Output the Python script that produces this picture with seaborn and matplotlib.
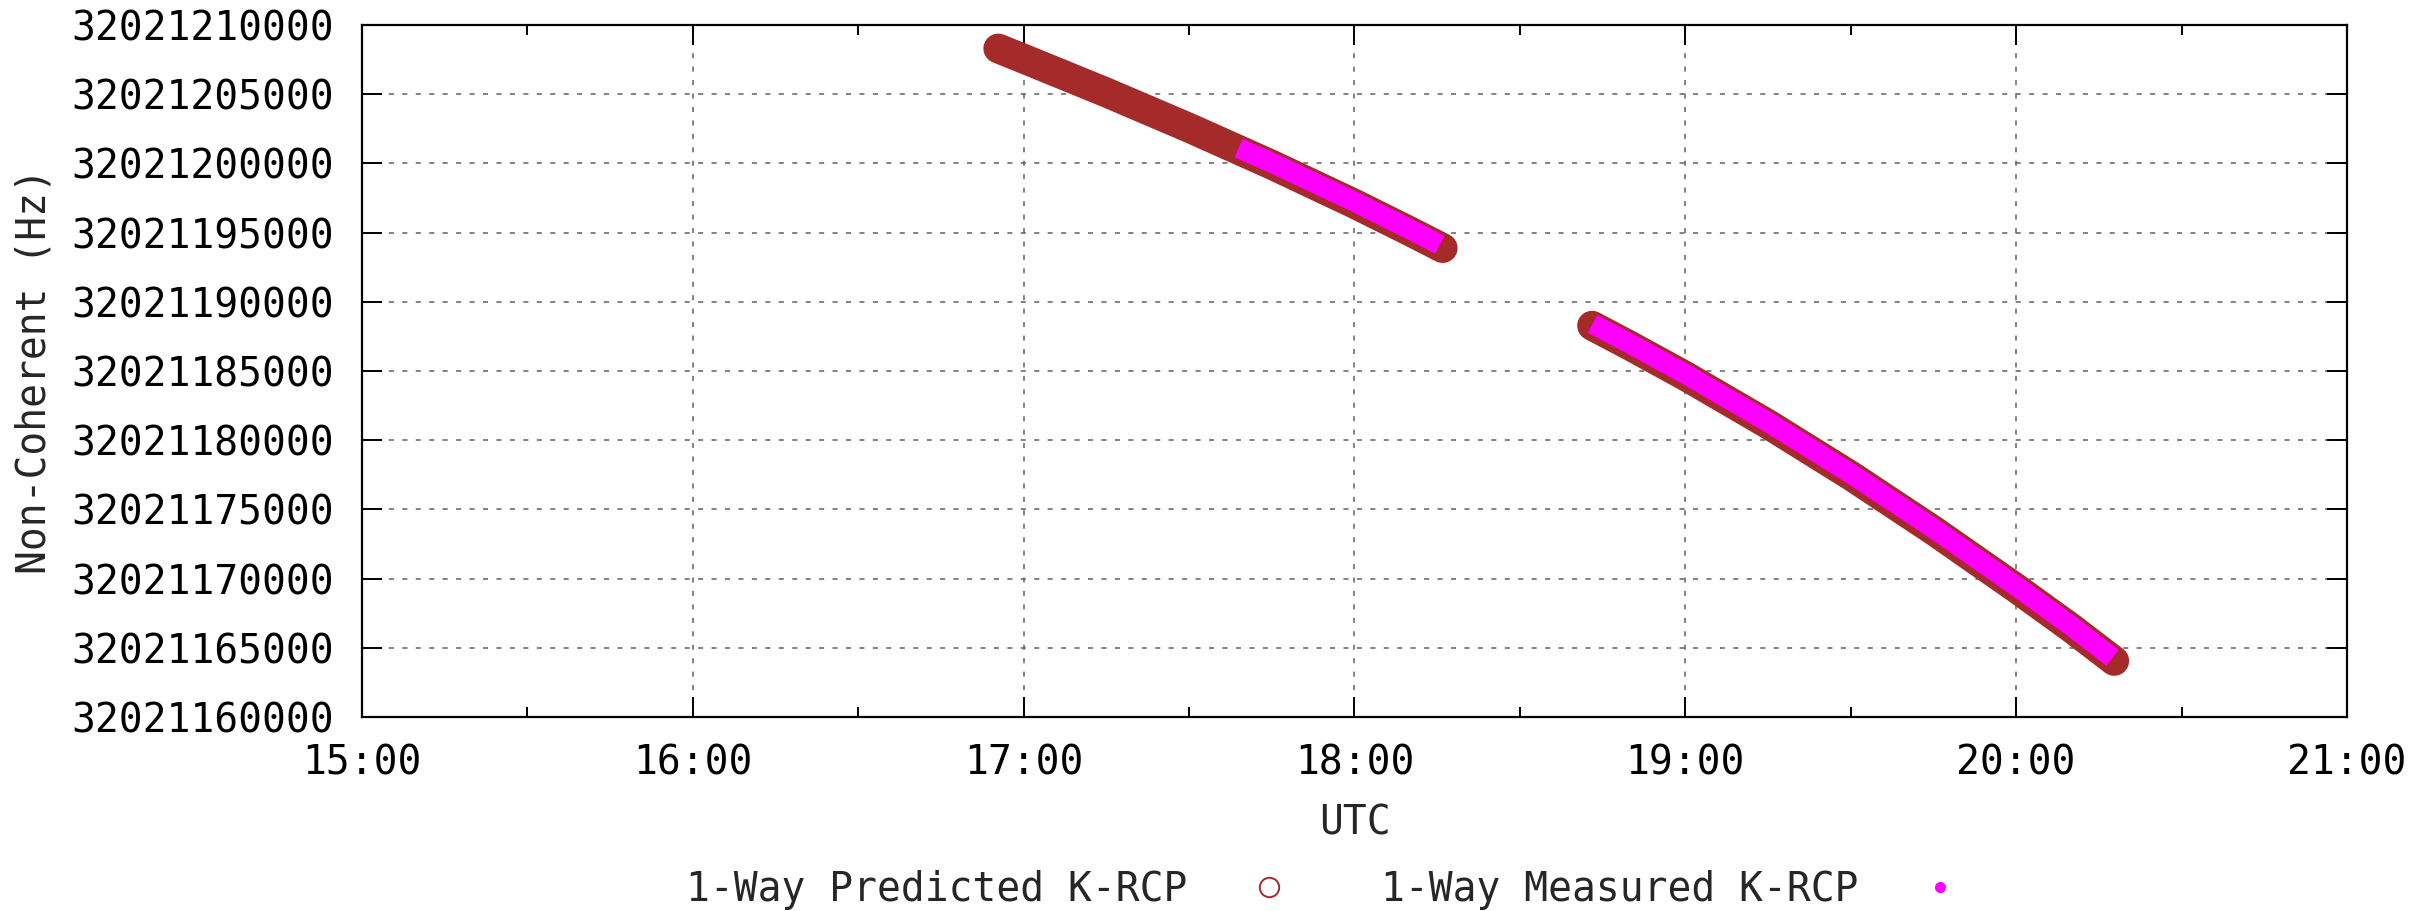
#
# Non-coherent K-RCP frequency, predicted vs measured (gnuplot look)
#
import matplotlib
matplotlib.use("Agg")
import matplotlib.pyplot as plt
import matplotlib.dates as mdates
import matplotlib.ticker as mticker
from matplotlib.lines import Line2D
import pandas as pd
import seaborn as sns

DAY = "2021-01-01 "

# 1. Data (UTC, Hz)
pred_seg1_time = ["16:55:24", "17:00:00", "17:15:00", "17:30:00", "17:45:00",
                  "18:00:00", "18:10:00", "18:16:00"]
pred_seg1_freq = [32021208300, 32021207560, 32021205120, 32021202570, 32021199900,
                  32021197080, 32021195100, 32021193880]

pred_seg2_time = ["18:43:06", "18:50:00", "19:00:00", "19:15:00", "19:30:00",
                  "19:45:00", "20:00:00", "20:10:00", "20:17:48"]
pred_seg2_freq = [32021188270, 32021186820, 32021184640, 32021181160, 32021177440,
                  32021173480, 32021169310, 32021166430, 32021164050]

meas_seg1_time = ["17:39:00", "17:45:00", "18:00:00", "18:10:00", "18:15:30"]
meas_seg1_freq = [32021201100, 32021200050, 32021197230, 32021195250, 32021194120]

meas_seg2_time = ["18:43:12", "18:50:00", "19:00:00", "19:15:00", "19:30:00",
                  "19:45:00", "20:00:00", "20:10:00", "20:17:30"]
meas_seg2_freq = [32021188400, 32021186970, 32021184790, 32021181310, 32021177590,
                  32021173630, 32021169460, 32021166580, 32021164280]

y_min, y_max, y_step = 32021160000, 32021210000, 5000
x_start, x_end = "15:00", "21:00"

LABEL_PRED = "1-Way Predicted K-RCP"
LABEL_MEAS = "1-Way Measured K-RCP"
BROWN = "#a52a2a"
MAGENTA = "#ff00ff"


def to_frame(segments):
    rows = []
    for seg_id, (times, freqs) in enumerate(segments):
        for t, f in zip(times, freqs):
            rows.append({"time": pd.Timestamp(DAY + t), "freq": f, "segment": seg_id})
    return pd.DataFrame(rows)


pred_df = to_frame([(pred_seg1_time, pred_seg1_freq), (pred_seg2_time, pred_seg2_freq)])
meas_df = to_frame([(meas_seg1_time, meas_seg1_freq), (meas_seg2_time, meas_seg2_freq)])

# 2. Style
sns.set_style("ticks")
plt.rcParams["font.family"] = ["DejaVu Sans Mono", "DejaVu Sans"]
FS = 28.5

fig = plt.figure(figsize=(24.23, 9.11), dpi=100)
ax = fig.add_axes([0.1494, 0.2130, 0.8192, 0.7596])

# predicted: dense open circles -> thick brown band
sns.lineplot(data=pred_df, x="time", y="freq", units="segment", estimator=None,
             sort=False, color=BROWN, linewidth=21.5, legend=False, ax=ax,
             solid_capstyle="round", solid_joinstyle="round", zorder=3)
# measured: small filled points -> narrower magenta band on top
sns.lineplot(data=meas_df, x="time", y="freq", units="segment", estimator=None,
             sort=False, color=MAGENTA, linewidth=14.5, legend=False, ax=ax,
             solid_capstyle="butt", solid_joinstyle="round", zorder=4)

# 3. Axes
ax.set_xlim(pd.Timestamp(DAY + x_start), pd.Timestamp(DAY + x_end))
ax.set_ylim(y_min, y_max)
ax.xaxis.set_major_locator(mdates.HourLocator())
ax.xaxis.set_minor_locator(mdates.MinuteLocator(byminute=[30]))
ax.xaxis.set_major_formatter(mdates.DateFormatter("%H:%M"))
ax.yaxis.set_major_locator(mticker.MultipleLocator(y_step))
ax.yaxis.set_major_formatter(mticker.StrMethodFormatter("{x:.0f}"))

ax.grid(True, which="major", color="#606060", linewidth=1.1,
        linestyle=(0, (3.3, 5.5)), zorder=1)

ax.tick_params(which="both", direction="in", top=True, right=True,
               width=1.4, colors="black", labelsize=FS)
ax.tick_params(which="major", length=14.5)
ax.tick_params(which="minor", length=7.2)
ax.tick_params(axis="y", pad=20)
ax.tick_params(axis="x", pad=19)
for sp in ax.spines.values():
    sp.set_linewidth(1.6)
    sp.set_color("black")

ax.set_xlabel("UTC", fontsize=FS)
ax.set_ylabel("Non-Coherent (Hz)", fontsize=FS)
ax.xaxis.set_label_coords(0.5, -0.125)
ax.yaxis.set_label_coords(-0.155, 0.5)

# 4. Legend (gnuplot puts the sample after the text)
handles = [
    Line2D([], [], linestyle="none", marker="o", markersize=14,
           markerfacecolor="none", markeredgecolor=BROWN, markeredgewidth=1.4),
    Line2D([], [], linestyle="none", marker="o", markersize=7,
           markerfacecolor=MAGENTA, markeredgecolor=MAGENTA),
]
fig.legend(handles, [LABEL_PRED, LABEL_MEAS], loc="center",
           bbox_to_anchor=(0.546, 0.023), ncol=2, frameon=False,
           markerfirst=False, fontsize=FS, handlelength=1.0,
           handletextpad=1.56, columnspacing=2.33)

fig.savefig("out.png", dpi=100)
